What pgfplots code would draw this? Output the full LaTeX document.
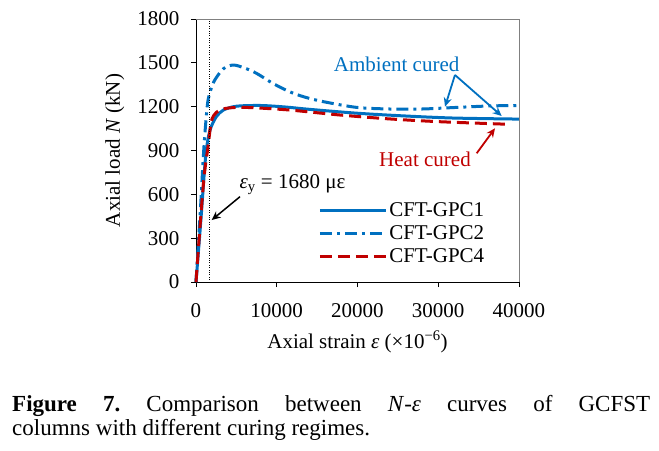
\documentclass[border=0pt]{standalone}
\usepackage{fontspec}
\setmainfont{Liberation Serif}
\usepackage{pgfplots}
\pgfplotsset{compat=1.18}
\usetikzlibrary{arrows.meta}
\definecolor{cblue}{RGB}{0,112,192}
\definecolor{cred}{RGB}{192,0,0}
\begin{document}
\frenchspacing
\begin{tikzpicture}
\useasboundingbox (-196bp,-169bp) rectangle (463bp,282bp);
\begin{axis}[
  at={(0,0)}, anchor=south west,
  scale only axis, width=323bp, height=263bp,
  xmin=0, xmax=40000, ymin=0, ymax=1800,
  xtick={0,10000,20000,30000,40000},
  ytick={0,300,600,900,1200,1500,1800},
  scaled x ticks=false,
  /pgf/number format/1000 sep={},
  /pgf/number format/assume math mode=true,
  axis lines=left, axis line style={-, line width=0.9pt},
  tick align=outside, major tick length=5bp,
  tick style={black, line width=0.8pt},
  ticklabel style={font=\fontsize{21bp}{24bp}\selectfont},
  xticklabel style={anchor=base, yshift=-30bp},
  yticklabel style={xshift=-8bp},
  xlabel={Axial strain \textit{ε} (×10\textsuperscript{−6})},
  ylabel={Axial load \textit{N} (kN)},
  label style={font=\fontsize{21bp}{24bp}\selectfont},
  xlabel style={at={(axis description cs:0.5,-0.251)}, anchor=base},
  ylabel style={at={(axis description cs:-0.2353,0.5)}, anchor=base},
  legend style={draw=none, fill=none, at={(0.378,0.31)}, anchor=north west,
    font=\fontsize{21bp}{22bp}\selectfont, row sep=3.5bp, inner sep=0bp},
  legend cell align=left,
  legend image code/.code={\draw[#1] (0bp,0bp) -- (66bp,0bp);},
  /tikz/every even column/.append style={column sep=5bp},
  clip=false,
]
\addplot[cblue, line width=3bp, smooth, tension=0.5] coordinates {
(0,0) (600,420) (1100,800) (1400,950) (1800,1050) (2500,1130) (3400,1177)
(5000,1203) (8000,1208) (11000,1198) (14000,1182) (20000,1155) (26000,1136)
(32000,1122) (40000,1115)};
\addlegendentry{CFT-GPC1}
\addplot[cblue, line width=3bp, dash pattern=on 12bp off 5bp on 3bp off 5bp, smooth, tension=0.5] coordinates {
(0,0) (500,450) (900,850) (1150,1050) (1450,1230) (1800,1310) (2300,1380) (3400,1460)
(4600,1485) (6000,1465) (7500,1428) (9500,1360) (11600,1302) (13500,1265) (15800,1234)
(19900,1195) (24000,1184) (28000,1184) (32300,1195) (36400,1205) (40000,1208)};
\addlegendentry{CFT-GPC2}
\addplot[cred, line width=3bp, dash pattern=on 12bp off 6bp, smooth, tension=0.5] coordinates {
(0,0) (500,380) (1000,720) (1500,930) (1900,1100) (2500,1160) (3400,1185) (5000,1195)
(7000,1193) (11600,1177) (17800,1143) (24000,1116) (30200,1097) (38900,1079)};
\addlegendentry{CFT-GPC4}
\addplot[black, thin, dotted, forget plot] coordinates {(1680,0) (1680,1800)};
\draw[gray, line width=0.9pt] (rel axis cs:0,1) -- (rel axis cs:1,1) -- (rel axis cs:1,0);
\node[cblue, anchor=base, font=\fontsize{21bp}{24bp}\selectfont] at (axis cs:24850,1444) {Ambient cured};
\draw[cblue, line width=1.8bp, -{Stealth[length=9bp,width=8bp]}] (axis cs:32070,1417) -- (axis cs:30840,1200);
\draw[cblue, line width=1.8bp, -{Stealth[length=9bp,width=8bp]}] (axis cs:32070,1417) -- (axis cs:37860,1136);
\node[cred, anchor=base, font=\fontsize{21bp}{24bp}\selectfont] at (axis cs:28360,789) {Heat cured};
\draw[cred, line width=1.8bp, -{Stealth[length=9bp,width=8bp]}] (axis cs:34760,881) -- (axis cs:37030,1052);
\node[black, anchor=base, font=\fontsize{21bp}{24bp}\selectfont] at (axis cs:11950,641) {\textit{ε}\textsubscript{y} = 1680 με};
\draw[black, line width=1.5bp, -{Stealth[length=9bp,width=8bp]}] (axis cs:5450,584) -- (axis cs:1940,424);
\end{axis}
\node[anchor=base west, inner sep=0pt, font=\fontsize{23bp}{25bp}\selectfont] at (-184bp,-129.7bp)
  {\makebox[638bp][s]{\textbf{Figure 7.} Comparison between \textit{N}-\textit{ε} curves of GCFST}};
\node[anchor=base west, inner sep=0pt, font=\fontsize{23bp}{25bp}\selectfont] at (-184bp,-153bp)
  {columns with different curing regimes.};
\end{tikzpicture}
\end{document}
